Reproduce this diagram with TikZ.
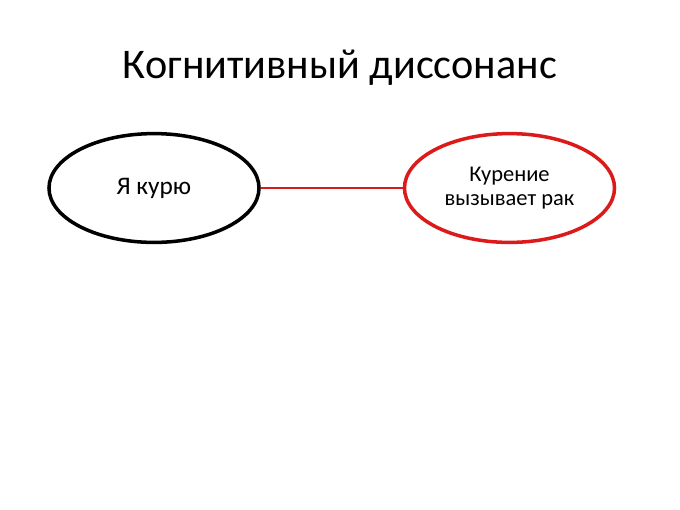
\documentclass[tikz,border=0pt]{standalone}
\usepackage{fontspec}
\setmainfont{Carlito}
\usepackage{tikz}
\usetikzlibrary{shapes.geometric,positioning}
\definecolor{alarmred}{HTML}{DC1A1A}

\begin{document}
\begin{tikzpicture}[
  x=0.025cm, y=-0.025cm,
  font=\fontsize{18}{21}\selectfont,
  bubble/.style={draw, ellipse, line width=2.5pt, minimum width=5.25cm,
    minimum height=2.72cm, align=center, inner sep=0pt},
  link/.style={draw=alarmred, line width=1.4pt},
]
\useasboundingbox (0,0) rectangle (680,509);

\node[font=\fontsize{30}{36}\selectfont, anchor=base] (title) at (340,78) {Когнитивный диссонанс};

\node[bubble] (smoke) at (154,188) {Я курю};
\node[bubble, draw=alarmred, font=\fontsize{16}{17.5}\selectfont] (cancer) at (509.5,188)
  {Курение\\вызывает рак};

\draw[link] (smoke) -- (cancer);
\end{tikzpicture}
\end{document}
